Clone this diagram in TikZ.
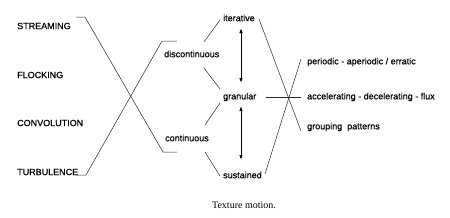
\documentclass[tikz,border=0pt]{standalone}
\usepackage{fontspec}
\setmainfont{Liberation Sans}[FakeBold=0.6]
\newfontfamily\lblfont{Liberation Sans}[AutoFakeBold=0.6]
\newfontfamily\capfont{Liberation Serif}
\usetikzlibrary{arrows.meta}
\begin{document}
\begin{tikzpicture}[x=1pt,y=-1pt,
  lbl/.style={inner sep=0pt,anchor=west,font=\lblfont\fontsize{9}{10}\selectfont\bfseries},
  conn/.style={draw=black!85,line width=0.5pt},
  dbl/.style={line width=1pt,{Latex[length=5pt,width=3.6pt]}-{Latex[length=5pt,width=3.6pt]}}]
\useasboundingbox (0,0) rectangle (450,217);
% labels
\node[lbl] (stream) at (17,26) {STREAMING};
\node[lbl] (flock) at (17,75) {FLOCKING};
\node[lbl] (convol) at (17,123) {CONVOLUTION};
\node[lbl] (turb) at (17,172) {TURBULENCE};
\node[lbl] (disc) at (164,54) {discontinuous};
\node[lbl] (cont) at (165,138) {continuous};
\node[lbl] (iter) at (223,18) {iterative};
\node[lbl] (gran) at (223,97) {granular};
\node[lbl] (sust) at (223,175) {sustained};
\node[lbl] (peri) at (307,62) {periodic - aperiodic / erratic};
\node[lbl] (accel) at (307,97) {accelerating - decelerating - flux};
\node[lbl] (group) at (307,127) {grouping\ \ patterns};
\node[inner sep=0pt,font=\capfont\fontsize{10}{12}\selectfont] (cap) at (244,205) {Texture motion.};
% coordinates
\coordinate (s1) at (76,17); \coordinate (s2) at (85,17);
\coordinate (s3) at (163,152); \coordinate (s4) at (177,152);
\coordinate (t1) at (77,175); \coordinate (t2) at (86,175);
\coordinate (t3) at (162,41); \coordinate (t4) at (177,41);
\coordinate (d1) at (204,42); \coordinate (d2) at (220,20);
\coordinate (d3) at (204,68); \coordinate (d4) at (220,89);
\coordinate (c1) at (205,125); \coordinate (c2) at (220,103);
\coordinate (c3) at (205,152); \coordinate (c4) at (220,176);
\coordinate (i1) at (259,19); \coordinate (g1) at (301,131);
\coordinate (u1) at (265,174); \coordinate (p1) at (301,59);
\coordinate (a0) at (266,97); \coordinate (a1) at (301,97);
\coordinate (r1) at (241,28); \coordinate (r2) at (241,83);
\coordinate (r3) at (241,106); \coordinate (r4) at (241,160);
% connectors
\draw[conn] (s1) -- (s2) -- (s3) -- (s4);
\draw[conn] (t1) -- (t2) -- (t3) -- (t4);
\draw[conn] (d1) -- (d2);
\draw[conn] (d3) -- (d4);
\draw[conn] (c1) -- (c2);
\draw[conn] (c3) -- (c4);
\draw[conn] (i1) -- (g1);
\draw[conn] (u1) -- (p1);
\draw[conn] (a0) -- (a1);
\draw[dbl] (r1) -- (r2);
\draw[dbl] (r3) -- (r4);
\end{tikzpicture}
\end{document}
